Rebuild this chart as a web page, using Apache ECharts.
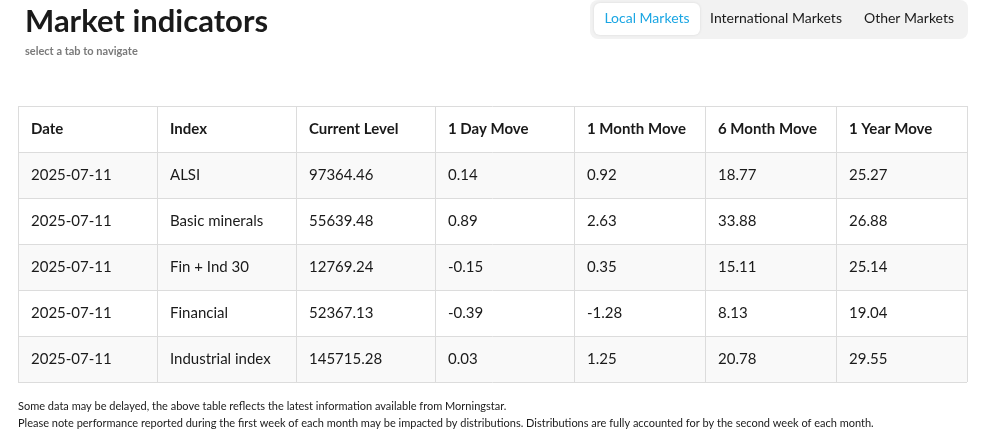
<!DOCTYPE html><html><head><meta charset="utf-8">
<script src="https://cdn.jsdelivr.net/npm/echarts@6/dist/echarts.min.js"></script>
<style>html,body{margin:0;padding:0;background:#fff}#c{width:987px;height:440px}</style></head><body><div id="c"></div>
<script>
const headers=["Date","Index","Current Level","1 Day Move","1 Month Move","6 Month Move","1 Year Move"];
const dates=["2025-07-11","2025-07-11","2025-07-11","2025-07-11","2025-07-11"];
const indices=["ALSI","Basic minerals","Fin + Ind 30","Financial","Industrial index"];
const levels=["97364.46","55639.48","12769.24","52367.13","145715.28"];
const day=["0.14","0.89","-0.15","-0.39","0.03"];
const month=["0.92","2.63","0.35","-1.28","1.25"];
const month6=["18.77","33.88","15.11","8.13","20.78"];
const year=["25.27","26.88","25.14","19.04","29.55"];
const tabs=["Local Markets","International Markets","Other Markets"];
const notes=["Some data may be delayed, the above table reflects the latest information available from Morningstar.","Please note performance reported during the first week of each month may be impacted by distributions. Distributions are fully accounted for by the second week of each month."];

const F='Lato, "Open Sans", sans-serif';
const colX=[18,157,296,435,574,705,836,967];
const rowY0=106,rowH=46;
const rows=dates.map((d,i)=>[d,indices[i],levels[i],day[i],month[i],month6[i],year[i]]);
const g=[];
g.push({type:'text',left:25,top:6,style:{text:'Market indicators',font:'bold 31px '+F,fill:'#1a1a1a'}});
g.push({type:'text',left:25,top:46,style:{text:'select a tab to navigate',font:'bold 11px '+F,fill:'#7a7a7a'}});
g.push({type:'rect',shape:{x:590,y:0,width:378,height:39,r:8},style:{fill:'#f2f2f2'}});
g.push({type:'rect',shape:{x:594,y:3,width:106,height:32,r:6},style:{fill:'#fff',shadowBlur:3,shadowColor:'rgba(0,0,0,0.1)'}});
const tabX=[647,776,909];
tabs.forEach((t,i)=>g.push({type:'text',x:tabX[i],y:18,style:{text:t,font:'14px '+F,fill:i===0?'#1ba6e3':'#1a1a1a',align:'center',verticalAlign:'middle'}}));
const all=[headers].concat(rows);
all.forEach((r,ri)=>{
  const y=rowY0+ri*rowH;
  if(ri%2===1) g.push({type:'rect',shape:{x:18,y:y,width:949,height:rowH},style:{fill:'#f9f9f9'}});
  r.forEach((v,ci)=>g.push({type:'text',x:colX[ci]+13,y:y+rowH/2,style:{text:v,font:(ri===0?'bold ':'')+'15px '+F,fill:'#1a1a1a',verticalAlign:'middle'}}));
});
const tableBottom=rowY0+all.length*rowH;
for(let ri=0;ri<=all.length;ri++){const y=rowY0+ri*rowH+0.5;g.push({type:'line',shape:{x1:18,y1:y,x2:967,y2:y},style:{stroke:'#dcdcdc',lineWidth:1}});}
colX.forEach(x=>g.push({type:'line',shape:{x1:x+0.5,y1:rowY0,x2:x+0.5,y2:tableBottom},style:{stroke:'#dcdcdc',lineWidth:1}}));
notes.forEach((n,i)=>g.push({type:'text',left:18,top:401+i*17,style:{text:n,font:'11px '+F,fill:'#1a1a1a'}}));
const ch=echarts.init(document.getElementById('c'));
ch.setOption({animation:false,graphic:g});
</script></body></html>
